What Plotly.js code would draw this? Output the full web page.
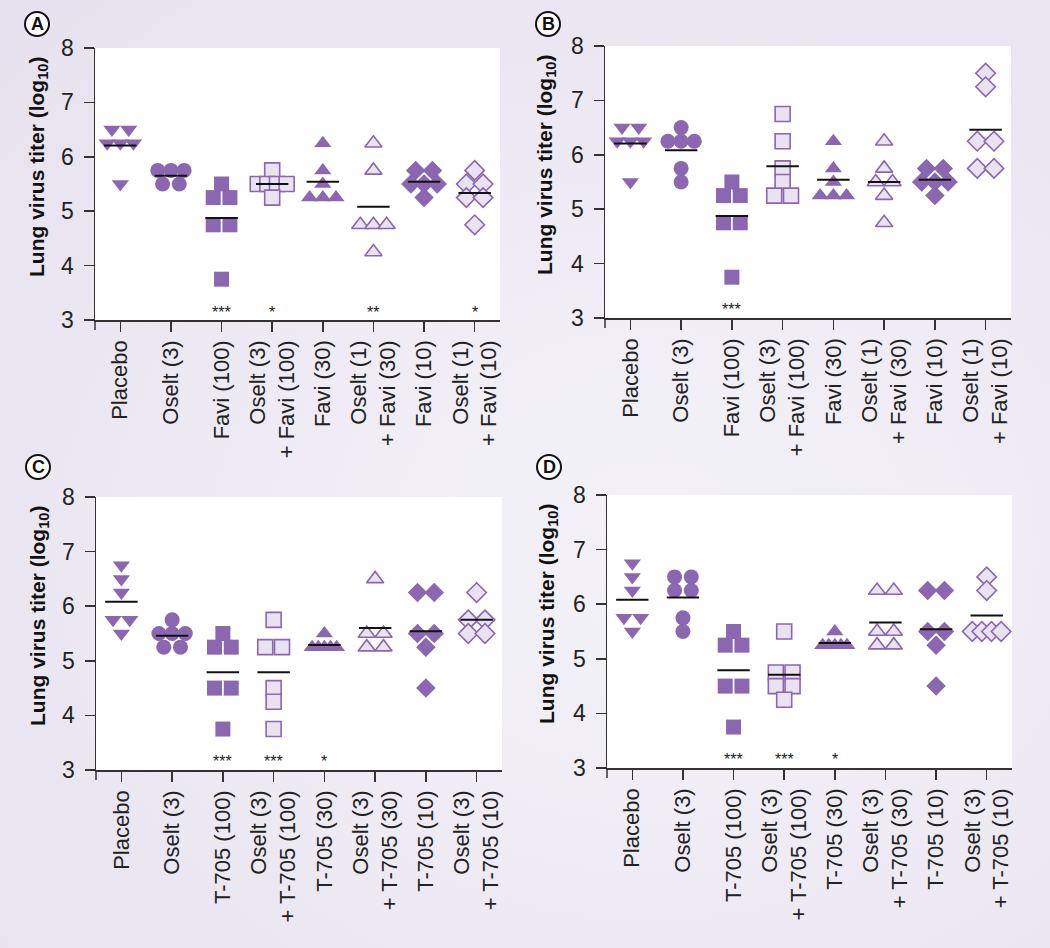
<!DOCTYPE html>
<html>
<head>
<meta charset="utf-8">
<script src="https://cdn.plot.ly/plotly-3.0.1.min.js"></script>
<style>
html,body{margin:0;padding:0;}
body{width:1050px;height:948px;overflow:hidden;
background: radial-gradient(ellipse at 62% 58%, #f4f2f8 0%, #eeebf4 45%, #e6e1ee 100%);}
#chart{width:1050px;height:948px;}
</style>
</head>
<body>
<div id="chart"></div>
<script>
// ---- categories ----
const catsFavi = ['Placebo','Oselt (3)','Favi (100)','Oselt (3)<br>+ Favi (100)','Favi (30)','Oselt (1)<br>+ Favi (30)','Favi (10)','Oselt (1)<br>+ Favi (10)'];
const catsT705 = ['Placebo','Oselt (3)','T-705 (100)','Oselt (3)<br>+ T-705 (100)','T-705 (30)','Oselt (3)<br>+ T-705 (30)','T-705 (10)','Oselt (3)<br>+ T-705 (10)'];

// ---- lung virus titers (log10), one list per group ----
const panelA = [
  [6.5,6.5,6.25,6.25,6.25,5.5],
  [5.75,5.75,5.75,5.5,5.5],
  [5.5,5.25,5.25,4.75,4.75,3.75],
  [5.75,5.5,5.5,5.5,5.5,5.25],
  [6.25,5.75,5.5,5.25,5.25,5.25],
  [6.25,5.75,4.75,4.75,4.75,4.25],
  [5.75,5.75,5.5,5.5,5.5,5.25],
  [5.75,5.5,5.5,5.25,5.25,4.75]
];
const panelB = [
  [6.5,6.5,6.25,6.25,6.25,5.5],
  [6.5,6.25,6.25,6.25,5.75,5.5],
  [5.5,5.25,5.25,4.75,4.75,3.75],
  [6.75,6.25,5.75,5.5,5.25,5.25],
  [6.25,5.75,5.5,5.25,5.25,5.25],
  [6.25,5.75,5.5,5.5,5.25,4.75],
  [5.75,5.75,5.5,5.5,5.5,5.25],
  [7.5,7.25,6.25,6.25,5.75,5.75]
];
const panelC = [
  [6.75,6.5,6.25,5.75,5.75,5.5],
  [5.75,5.5,5.5,5.5,5.25,5.25],
  [5.5,5.25,5.25,4.5,4.5,3.75],
  [5.75,5.25,5.25,4.5,4.25,3.75],
  [5.5,5.25,5.25,5.25,5.25,5.25],
  [6.5,5.5,5.5,5.25,5.25],
  [6.25,6.25,5.5,5.5,5.25,4.5],
  [6.25,5.75,5.75,5.5,5.5]
];
const panelD = [
  [6.75,6.5,6.25,5.75,5.75,5.5],
  [6.5,6.5,6.25,6.25,5.75,5.5],
  [5.5,5.25,5.25,4.5,4.5,3.75],
  [5.5,4.75,4.75,4.5,4.5,4.25],
  [5.5,5.25,5.25,5.25,5.25,5.25],
  [6.25,6.25,5.5,5.5,5.25,5.25],
  [6.25,6.25,5.5,5.5,5.25,4.5],
  [6.5,6.25,5.5,5.5,5.5,5.5]
];

// ---- significance marks ----
const sigA = ['','','***','*','','**','','*'];
const sigB = ['','','***','','','','',''];
const sigC = ['','','***','***','*','','',''];
const sigD = ['','','***','***','*','','',''];

const yTicks = [3,4,5,6,7,8];

// ---- styles ----
const symbols = ['triangle-down','circle','square','square','triangle-up','triangle-up','diamond','diamond'];
const filled  = [true,true,true,false,true,false,true,false];
const PURPLE = '#8a67b0', LIGHT = '#e8e2f1';
const FONT = '"Liberation Sans", Arial, Helvetica, sans-serif';
const W = 1050, H = 948;

// horizontal spreading of tied values (scatter dot plot layout)
function spreadOffsets(vals){
  const counts = {}, seen = {};
  vals.forEach(v => counts[v] = (counts[v]||0) + 1);
  const spacing = [0,0,0.33,0.26,0.19,0.12,0.1];
  return vals.map(v => {
    const n = counts[v];
    const k = (seen[v] = (seen[v]||0) + 1) - 1;
    const sp = spacing[n] !== undefined ? spacing[n] : 0.1;
    return (k - (n-1)/2) * sp;
  });
}

const panels = [
  {key:'A', data:panelA, sig:sigA, cats:catsFavi, xd:[95,500],  yd:[48,320],  lab:[37,24],  ttl:[38,167]},
  {key:'B', data:panelB, sig:sigB, cats:catsFavi, xd:[605,1011],yd:[46,318],  lab:[548,24], ttl:[546,165]},
  {key:'C', data:panelC, sig:sigC, cats:catsT705, xd:[96,502],  yd:[497,770], lab:[38,467], ttl:[39,616]},
  {key:'D', data:panelD, sig:sigD, cats:catsT705, xd:[607,1012],yd:[495,768], lab:[549,467],ttl:[548,614]}
];

const traces = [], annotations = [], shapes = [];
const layout = {
  width: W, height: H,
  margin: {l:0, r:0, t:0, b:0},
  paper_bgcolor: 'rgba(0,0,0,0)',
  plot_bgcolor: '#ffffff',
  showlegend: false,
  font: {family: FONT, color: '#222'}
};

panels.forEach((p, pi) => {
  const n = pi + 1;
  const xa = 'x' + n, ya = 'y' + n;
  // points
  p.data.forEach((vals, gi) => {
    const offs = spreadOffsets(vals);
    traces.push({
      type: 'scatter', mode: 'markers', xaxis: xa, yaxis: ya,
      x: vals.map((v, i) => gi + offs[i]), y: vals,
      cliponaxis: false, hoverinfo: 'y',
      marker: {
        symbol: symbols[gi], size: 15,
        color: filled[gi] ? PURPLE : LIGHT,
        line: {color: PURPLE, width: filled[gi] ? 0 : 1.6}
      }
    });
  });
  // mean lines
  const mx = [], my = [];
  p.data.forEach((vals, gi) => {
    const m = vals.reduce((a,b)=>a+b,0) / vals.length;
    mx.push(gi - 0.32, gi + 0.32, null);
    my.push(m, m, null);
  });
  traces.push({type:'scatter', mode:'lines', xaxis:xa, yaxis:ya, x:mx, y:my,
    line:{color:'#111', width:2}, hoverinfo:'skip'});

  const axKey = n === 1 ? '' : String(n);
  layout['xaxis' + axKey] = {
    domain: [p.xd[0]/W, p.xd[1]/W], anchor: ya,
    range: [-0.5, 7.5], fixedrange: true,
    tickmode: 'array',
    tickvals: p.cats.map((c,i)=>i),
    ticktext: p.cats,
    tickangle: -90,
    ticks: 'outside', ticklen: 10, tickwidth: 1.5, tickcolor: '#333',
    showline: true, linecolor: '#333', linewidth: 1.5,
    showgrid: false, zeroline: false,
    tickfont: {family: FONT, size: 22, color: '#222'}
  };
  layout['yaxis' + axKey] = {
    domain: [1 - p.yd[1]/H, 1 - p.yd[0]/H], anchor: xa,
    range: [3, 8], fixedrange: true,
    tickmode: 'array', tickvals: yTicks, ticktext: yTicks.map(String),
    ticks: 'outside', ticklen: 10, tickwidth: 1.5, tickcolor: '#333',
    ticklabelstandoff: 5,
    showline: true, linecolor: '#333', linewidth: 1.5,
    showgrid: false, zeroline: false,
    tickfont: {family: FONT, size: 23, color: '#222'}
  };
  // y axis line continues below the x axis by one tick length
  shapes.push({type:'line', xref:'paper', yref:'paper',
    x0:p.xd[0]/W, x1:p.xd[0]/W, y0:1-p.yd[1]/H, y1:1-(p.yd[1]+10)/H,
    line:{color:'#333', width:1.5}});
  // significance
  p.sig.forEach((s, gi) => {
    if (!s) return;
    annotations.push({xref: xa, yref: ya, x: gi, y: 3.34, text: s, showarrow: false,
      xanchor: 'center', yanchor: 'top', font: {family: FONT, size: 16, color: '#222'}});
  });
  // y title
  annotations.push({xref:'paper', yref:'paper', x: p.ttl[0]/W, y: 1 - p.ttl[1]/H,
    text: '<b>Lung virus titer (log<sub>10</sub>)</b>', textangle: -90, showarrow: false,
    xanchor: 'center', yanchor: 'middle', font: {family: FONT, size: 21, color: '#111'}});
  // panel letter
  const r = 12;
  shapes.push({type:'circle', xref:'paper', yref:'paper',
    x0:(p.lab[0]-r)/W, x1:(p.lab[0]+r)/W, y0:1-(p.lab[1]+r)/H, y1:1-(p.lab[1]-r)/H,
    fillcolor:'#ffffff', line:{color:'#111', width:2}});
  annotations.push({xref:'paper', yref:'paper', x:p.lab[0]/W, y:1-p.lab[1]/H,
    text:'<b>'+p.key+'</b>', showarrow:false, xanchor:'center', yanchor:'middle',
    font:{family:FONT, size:18, color:'#111'}});
});

layout.annotations = annotations;
layout.shapes = shapes;

Plotly.newPlot('chart', traces, layout, {staticPlot: true, displayModeBar: false});
</script>
</body>
</html>
